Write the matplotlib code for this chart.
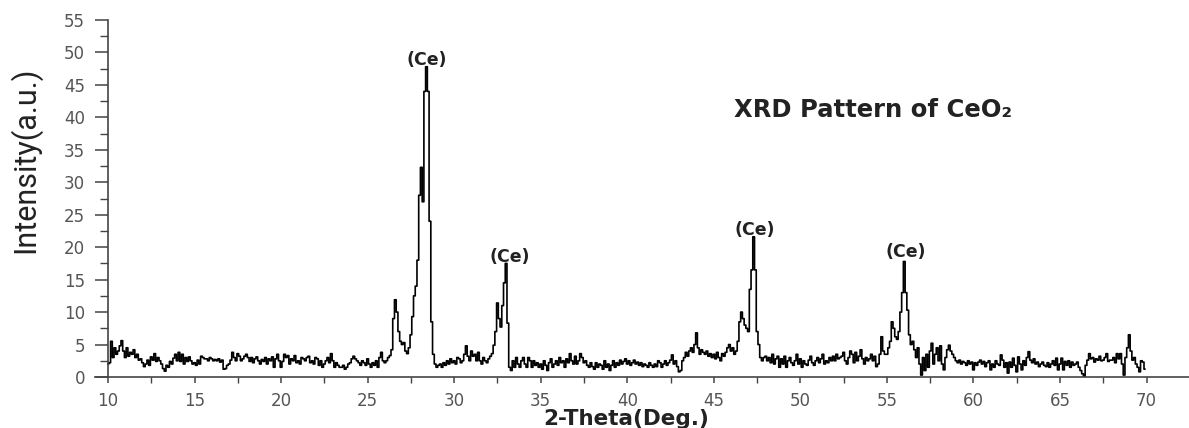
import numpy as np
import matplotlib
matplotlib.use("Agg")
import matplotlib.pyplot as plt
from matplotlib.ticker import MultipleLocator

# 2-theta start (deg) and step; intensity rows, one row per degree (10.0 .. 69.9)
theta_start = 10.0
theta_step = 0.1
intensity_rows = [
    [2.0, 2.2, 5.5, 3.0, 4.5, 3.5, 4.0, 4.8, 5.6, 4.0],   # 10
    [3.0, 4.5, 3.2, 3.8, 3.5, 4.2, 3.0, 3.5, 2.6, 2.8],   # 11
    [2.2, 1.6, 2.0, 2.6, 1.8, 3.1, 2.6, 3.6, 2.4, 3.0],   # 12
    [2.5, 2.0, 1.3, 0.9, 1.8, 1.5, 2.4, 2.0, 2.9, 3.5],   # 13
    [2.5, 3.8, 2.4, 3.5, 2.0, 3.0, 2.4, 3.1, 2.5, 2.0],   # 14
    [2.2, 1.8, 2.6, 2.0, 3.2, 3.0, 2.8, 2.8, 2.5, 3.0],   # 15
    [2.8, 2.5, 2.7, 2.5, 2.8, 2.3, 2.6, 1.2, 1.3, 1.8],   # 16
    [2.0, 2.6, 3.8, 3.0, 2.5, 3.6, 3.2, 2.5, 2.8, 3.2],   # 17
    [3.5, 3.0, 2.4, 3.0, 2.2, 2.8, 3.1, 2.5, 2.0, 2.7],   # 18
    [2.4, 3.0, 2.0, 2.8, 2.5, 3.1, 1.5, 2.8, 3.5, 2.5],   # 19
    [1.5, 2.4, 3.5, 3.0, 3.3, 2.0, 2.8, 2.5, 3.3, 2.2],   # 20
    [2.5, 2.0, 3.0, 2.8, 2.5, 3.0, 3.2, 2.2, 2.5, 2.0],   # 21
    [3.0, 2.8, 1.8, 2.5, 1.5, 2.0, 2.5, 3.0, 2.2, 3.6],   # 22
    [2.5, 1.5, 2.2, 1.8, 1.5, 1.5, 1.8, 1.2, 1.5, 2.0],   # 23
    [2.2, 2.8, 3.2, 2.8, 2.5, 2.2, 1.8, 2.5, 2.2, 1.8],   # 24
    [2.8, 2.0, 1.5, 2.2, 1.8, 2.5, 1.5, 3.0, 3.8, 2.5],   # 25
    [2.2, 2.5, 3.0, 3.3, 4.2, 9.0, 11.9, 10.0, 7.0, 5.5], # 26
    [5.0, 5.3, 4.0, 3.6, 4.5, 6.5, 9.3, 12.5, 14.0, 18.0],  # 27
    [28.0, 32.3, 27.0, 44.0, 47.8, 44.0, 24.0, 8.5, 3.5, 2.0],  # 28
    [1.5, 1.8, 2.0, 1.5, 2.2, 1.8, 2.5, 2.0, 2.8, 2.2],   # 29
    [2.5, 2.0, 3.0, 2.8, 2.2, 2.5, 3.5, 4.8, 3.2, 2.5],   # 30
    [4.0, 3.2, 3.5, 2.5, 3.8, 2.5, 2.0, 3.0, 2.5, 2.2],   # 31
    [2.8, 3.2, 3.6, 4.9, 7.0, 11.4, 9.0, 7.7, 11.0, 14.5],  # 32
    [17.5, 8.3, 1.5, 1.0, 2.5, 1.5, 3.0, 2.0, 1.5, 2.5],  # 33
    [3.0, 2.0, 1.5, 3.0, 2.5, 1.5, 2.5, 1.8, 2.2, 1.5],   # 34
    [2.0, 1.2, 2.5, 1.8, 1.0, 2.2, 2.8, 1.5, 2.0, 2.5],   # 35
    [1.8, 3.0, 2.2, 2.5, 1.5, 2.8, 2.2, 3.6, 2.5, 2.0],   # 36
    [3.2, 2.0, 2.5, 3.6, 3.0, 2.2, 2.5, 1.8, 1.5, 2.2],   # 37
    [1.6, 1.2, 2.2, 1.5, 2.0, 1.8, 1.2, 2.5, 1.5, 2.0],   # 38
    [1.0, 1.8, 2.5, 1.5, 2.2, 1.8, 2.6, 2.0, 2.4, 2.8],   # 39
    [2.0, 2.5, 1.8, 2.2, 2.6, 2.0, 2.3, 1.8, 2.2, 1.6],   # 40
    [2.0, 1.8, 1.5, 2.2, 1.8, 1.5, 2.0, 1.6, 2.5, 2.2],   # 41
    [1.5, 2.0, 2.5, 1.8, 2.2, 2.6, 3.4, 2.0, 2.5, 1.6],   # 42
    [0.8, 1.0, 2.5, 3.0, 3.8, 3.2, 4.0, 4.5, 3.8, 5.0],   # 43
    [6.8, 4.5, 3.5, 4.2, 3.8, 3.5, 4.0, 3.2, 3.6, 3.0],   # 44
    [3.5, 2.8, 3.8, 3.0, 2.5, 3.6, 3.2, 3.8, 4.5, 5.0],   # 45
    [4.0, 4.5, 3.5, 4.0, 5.5, 8.5, 10.0, 9.0, 8.0, 7.5],  # 46
    [7.0, 13.5, 16.5, 21.6, 16.5, 7.0, 5.0, 3.0, 2.5, 3.0],  # 47
    [3.2, 2.5, 3.0, 2.2, 3.5, 2.0, 2.8, 3.2, 1.5, 2.8],   # 48
    [2.0, 3.2, 1.5, 2.5, 3.0, 2.2, 1.8, 2.5, 3.5, 2.0],   # 49
    [2.8, 1.5, 2.5, 2.0, 1.8, 2.6, 3.2, 2.2, 1.8, 2.5],   # 50
    [3.0, 2.2, 2.8, 3.5, 2.0, 2.5, 2.2, 3.0, 2.5, 3.2],   # 51
    [2.5, 3.5, 2.8, 3.0, 3.2, 3.8, 2.5, 2.0, 3.0, 4.0],   # 52
    [3.5, 2.2, 3.8, 2.5, 3.2, 4.2, 2.8, 2.0, 3.0, 2.5],   # 53
    [2.8, 3.5, 2.5, 3.2, 1.6, 2.0, 3.5, 6.2, 4.0, 3.5],   # 54
    [3.5, 4.5, 5.5, 8.5, 7.5, 6.2, 5.8, 7.0, 10.0, 13.0], # 55
    [17.8, 13.0, 10.3, 6.5, 5.0, 5.5, 4.2, 3.0, 4.5, 2.0],  # 56
    [0.3, 3.0, 1.0, 3.5, 1.5, 4.0, 5.2, 2.0, 3.5, 4.5],   # 57
    [2.5, 4.8, 2.0, 1.1, 3.0, 4.2, 4.9, 4.0, 3.5, 3.0],   # 58
    [2.5, 2.2, 2.6, 2.0, 2.4, 2.2, 1.8, 2.5, 2.0, 2.3],   # 59
    [1.1, 2.2, 1.8, 2.3, 2.6, 2.0, 2.4, 1.6, 2.2, 2.5],   # 60
    [1.1, 2.0, 1.5, 2.5, 2.0, 1.8, 3.4, 2.6, 1.5, 2.2],   # 61
    [0.6, 2.3, 1.5, 2.9, 1.8, 0.8, 3.1, 2.0, 1.1, 2.5],   # 62
    [1.8, 3.0, 3.9, 2.6, 2.2, 2.8, 2.0, 2.3, 1.6, 2.0],   # 63
    [2.3, 1.8, 1.6, 2.2, 1.5, 2.0, 2.5, 1.8, 2.9, 1.1],   # 64
    [2.0, 2.9, 1.1, 2.4, 1.8, 2.5, 1.5, 2.3, 1.8, 2.0],   # 65
    [2.3, 1.5, 1.0, 0.5, 0.05, 1.8, 2.6, 3.6, 2.8, 3.0],  # 66
    [2.3, 2.8, 2.6, 3.2, 2.5, 2.6, 3.0, 3.6, 2.4, 2.6],   # 67
    [2.6, 3.0, 2.2, 3.6, 2.8, 3.6, 2.0, 0.3, 3.0, 4.5],   # 68
    [6.5, 4.0, 2.6, 3.0, 2.0, 1.5, 0.8, 2.5, 2.3, 1.2],   # 69
]

peak_label = "(Ce)"
peak_label_x = [28.42, 33.21, 47.36, 56.07]
peak_label_y = [48.8, 18.5, 22.65, 19.26]

title_text = "XRD Pattern of CeO\u2082"
x_label = "2-Theta(Deg.)"
y_label = "Intensity(a.u.)"
x_ticks = [10, 15, 20, 25, 30, 35, 40, 45, 50, 55, 60, 65, 70]
y_ticks = [0, 5, 10, 15, 20, 25, 30, 35, 40, 45, 50, 55]

intensity = np.array([v for row in intensity_rows for v in row])
theta = theta_start + theta_step * np.arange(len(intensity))

W, H = 1189, 428
fig = plt.figure(figsize=(W / 100, H / 100), dpi=100)
ax = fig.add_axes([95 / W, 1 - 377 / H, (W - 95) / W, 357 / H])

ax.plot(theta, intensity, color="black", lw=1.2, drawstyle="steps-mid")

ax.set_xlim(9.25, 72.45)
ax.set_ylim(0, 55)
ax.spines["top"].set_visible(False)
ax.spines["right"].set_visible(False)
ax.spines["left"].set_position(("data", 10))
ax.spines["left"].set_bounds(0, 55)
for s in ("left", "bottom"):
    ax.spines[s].set_color("#444444")
    ax.spines[s].set_linewidth(1.2)

ax.set_xticks(x_ticks)
ax.set_yticks(y_ticks)
ax.xaxis.set_minor_locator(MultipleLocator(2.5))
ax.yaxis.set_minor_locator(MultipleLocator(2.5))
tick_col = "#555555"
ax.tick_params(axis="y", which="major", length=9.5, width=1.1, color="#444444",
               pad=7, labelsize=12, labelcolor=tick_col)
ax.tick_params(axis="y", which="minor", length=5.5, width=1.0, color="#444444")
ax.tick_params(axis="x", which="major", length=4.5, width=1.1, color="#444444",
               pad=6, labelsize=12, labelcolor=tick_col)
ax.tick_params(axis="x", which="minor", length=4.0, width=1.0, color="#444444")

ax.set_xlabel(x_label, fontsize=15.5, fontweight="bold", color="#222222")
ax.xaxis.set_label_coords((626 - 95) / (W - 95), -0.09)

fig.text(25 / W, 1 - 160 / H, y_label, rotation=90, ha="center", va="center",
         fontsize=22, color="#222222", family=["Roboto", "DejaVu Sans"])

ax.text(54.2, 41.1, title_text, ha="center", va="center", fontsize=17.5,
        fontweight="bold", color="#222222")

for px, py in zip(peak_label_x, peak_label_y):
    ax.text(px, py, peak_label, ha="center", va="center", fontsize=12.5,
            fontweight="bold", color="#222222")

fig.savefig("out.png", dpi=100, facecolor="white")
